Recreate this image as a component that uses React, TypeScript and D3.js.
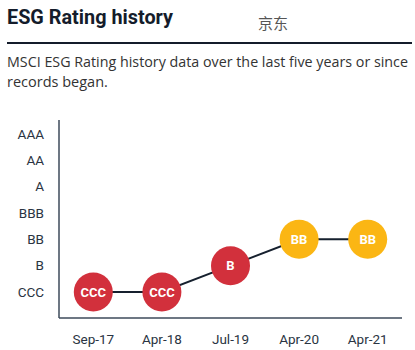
import React from "react";
import * as d3 from "d3";

const ratings = ["CCC", "B", "BB", "BBB", "A", "AA", "AAA"];
const dates = ["Sep-17", "Apr-18", "Jul-19", "Apr-20", "Apr-21"];
const values = ["CCC", "CCC", "B", "BB", "BB"];
const colorByRating: Record<string, string> = {
  CCC: "#d2303c",
  B: "#d2303c",
  BB: "#fbb614",
  BBB: "#fbb614",
  A: "#2f9e6e",
  AA: "#2f9e6e",
  AAA: "#2f9e6e",
};

export default function App() {
  const W = 415, H = 350;
  const x = d3.scalePoint<string>().domain(dates).range([59, 402]).padding(0.5);
  const y = d3.scalePoint<string>().domain(ratings).range([292, 134]);
  const pts = dates.map((d, i) => ({ d, r: values[i], x: x(d)!, y: y(values[i])! }));
  const line = d3.line<any>().x((p) => p.x).y((p) => p.y);
  const font = "Roboto, 'Open Sans', sans-serif";
  return (
    <svg width={W} height={H} style={{ position: "absolute", left: 0, top: 0 }} fontFamily={font}>
      <rect width={W} height={H} fill="#fff" />
      <text x={7} y={24} fontSize={20} fontWeight={700} fill="#141c2b" fontFamily="Roboto, sans-serif" textLength={166} lengthAdjust="spacingAndGlyphs">ESG Rating history</text>
      <text x={258} y={29} fontSize={15} fill="#555" fontFamily="'Noto Sans CJK SC', sans-serif">京东</text>
      <line x1={7} x2={412} y1={43} y2={43} stroke="#141c2b" strokeWidth={2} />
      <text x={7} y={67} fontSize={14.5} fill="#333" fontFamily="'Open Sans', sans-serif" textLength={401} lengthAdjust="spacingAndGlyphs">MSCI ESG Rating history data over the last five years or since</text>
      <text x={7} y={87} fontSize={14.5} fill="#333" fontFamily="'Open Sans', sans-serif">records began.</text>
      <line x1={59} x2={59} y1={120} y2={318} stroke="#3d4a5a" strokeWidth={1.5} />
      <line x1={59} x2={402} y1={318} y2={318} stroke="#3d4a5a" strokeWidth={1.5} />
      {ratings.map((r) => (
        <text key={r} x={44} y={y(r)!} dy="0.35em" textAnchor="end" fontSize={13.5} fill="#2a3442">{r}</text>
      ))}
      {dates.map((d) => (
        <text key={d} x={x(d)!} y={339} dy="0.35em" textAnchor="middle" fontSize={13.5} fill="#2a3442">{d}</text>
      ))}
      <path d={line(pts)!} fill="none" stroke="#16202e" strokeWidth={2} />
      {pts.map((p) => (
        <g key={p.d}>
          <circle cx={p.x} cy={p.y} r={19.5} fill={colorByRating[p.r]} />
          <text x={p.x} y={p.y} dy="0.36em" textAnchor="middle" fontSize={13} fontWeight={700} fill="#fff">{p.r}</text>
        </g>
      ))}
    </svg>
  );
}
